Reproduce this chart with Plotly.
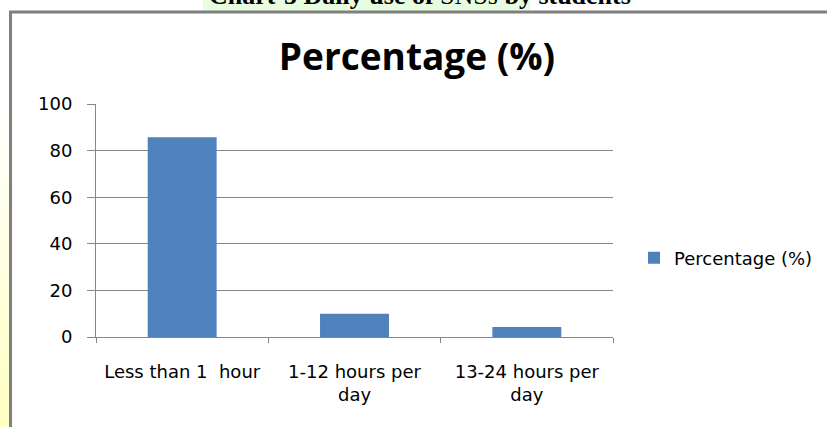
import plotly.graph_objects as go

categories = ["Less than 1  hour", "1-12 hours per<br>day", "13-24 hours per<br>day"]
percentages = [85.71, 10, 4.29]
series_name = "Percentage (%)"
y_ticks = [0, 20, 40, 60, 80, 100]

W, H = 827, 427
L, R, T, B = 96, 613, 104, 337  # plot area in px


def px(x):
    return (x - L) / (R - L)


def py(y):
    return (B - y) / (B - T)


fig = go.Figure()
fig.add_trace(go.Bar(
    x=categories, y=percentages, name=series_name,
    marker=dict(color="#4f81bd", line=dict(width=0)),
    width=0.4, showlegend=True,
))

shapes = []
# yellow gradient strip on the left
steps = 14
for i in range(steps):
    y0 = 120 + i * (427 - 120) / steps
    y1 = 120 + (i + 1) * (427 - 120) / steps
    t = (i + 1) / steps
    b = int(255 - t * 60)
    shapes.append(dict(type="rect", xref="paper", yref="paper",
                       x0=px(0), x1=px(9), y0=py(y0), y1=py(y1),
                       fillcolor=f"rgb(255,255,{b})", line=dict(width=0), layer="below"))
# green highlight behind header
shapes.append(dict(type="rect", xref="paper", yref="paper",
                   x0=px(203), x1=px(530), y0=py(0), y1=py(11),
                   fillcolor="#e8fde0", line=dict(width=0), layer="below"))
# chart frame
shapes.append(dict(type="rect", xref="paper", yref="paper",
                   x0=px(10.5), x1=px(840), y0=py(12), y1=py(440),
                   fillcolor="rgba(0,0,0,0)", line=dict(color="#7f7f7f", width=3)))

tick_font = dict(family="DejaVu Sans, sans-serif", size=18, color="#000")

fig.update_layout(
    width=W, height=H,
    margin=dict(l=L, r=W - R, t=T, b=H - B, pad=0, autoexpand=False),
    paper_bgcolor="white", plot_bgcolor="white",
    font=tick_font,
    shapes=shapes,
    bargap=0.6,
    title=dict(text="<b>Percentage (%)</b>", xref="container", x=417 / W, xanchor="center",
               yref="container", y=1 - 57 / H, yanchor="middle",
               font=dict(family="Open Sans, sans-serif", size=37, color="#000")),
    legend=dict(x=px(634), xanchor="left", y=py(258), yanchor="middle",
                font=tick_font, bgcolor="rgba(0,0,0,0)", itemwidth=30),
    annotations=[dict(text="<b>Chart-5 Daily use of </b>SNSs<b> by students</b>",
                      xref="paper", yref="paper", x=px(420), xanchor="center",
                      y=py(12), yanchor="bottom", showarrow=False,
                      font=dict(family="Liberation Serif, serif", size=26, color="#000"))],
)
fig.update_xaxes(
    showline=True, linecolor="#868686", linewidth=1,
    ticks="outside", tickson="boundaries", ticklen=5, tickcolor="#868686",
    showgrid=False, ticklabelstandoff=18,
    tickfont=tick_font,
)
fig.update_yaxes(
    range=[0, 100], tickvals=y_ticks, showline=True, linecolor="#868686", linewidth=1,
    ticks="outside", ticklen=8, tickcolor="#868686",
    showgrid=True, gridcolor="#868686", gridwidth=1, zeroline=False,
    ticklabelstandoff=11, tickfont=tick_font,
)
fig.write_html("out.html", config={"displayModeBar": False},
               post_script="document.body.style.margin='0';document.body.style.overflow='hidden';")
